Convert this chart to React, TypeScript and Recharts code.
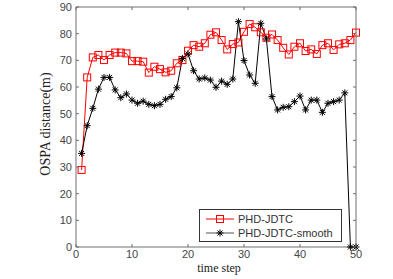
import React from "react";
import { LineChart, Line, XAxis, YAxis, Legend } from "recharts";

// time steps 1..50
const timeSteps = [
  1, 2, 3, 4, 5, 6, 7, 8, 9, 10, 11, 12, 13, 14, 15, 16, 17, 18, 19, 20, 21, 22, 23, 24, 25,
  26, 27, 28, 29, 30, 31, 32, 33, 34, 35, 36, 37, 38, 39, 40, 41, 42, 43, 44, 45, 46, 47, 48, 49, 50,
];

const phdJdtc = [
  28.9, 63.6, 71.1, 72, 70.1, 72, 72.9, 72.9, 72.6, 69.7, 69.7, 69.5, 65.4, 67.6, 66.7, 65.5, 66.1,
  68.9, 70.1, 73.6, 75.7, 75.1, 76.4, 79.6, 80.5, 77.6, 74.1, 76.1, 76.7, 80.7, 83.6, 82.4, 80.5,
  78.5, 79.7, 77.6, 74.7, 72.2, 75.1, 76.4, 73.5, 74.1, 72.4, 75.7, 76.4, 73.9, 76, 76.4, 77.6, 80.4,
];

const phdJdtcSmooth = [
  35.1, 45.5, 52, 59.2, 63.6, 63.6, 58.9, 56, 57.4, 55.1, 53.9, 54.7, 53.5, 53, 53.5, 55.4, 56.4,
  59.7, 70.7, 72.4, 66.1, 63, 63.4, 62.6, 59.9, 62.2, 61, 63, 84.5, 69.9, 64.5, 61.4, 83.9, 78,
  56.4, 51.4, 52.4, 52.6, 54.5, 56.6, 51.4, 55.1, 55.1, 50.5, 53.9, 54.5, 55.1, 57.8, 0, 0,
];

const xTicks = [0, 10, 20, 30, 40, 50];
const yTicks = [0, 10, 20, 30, 40, 50, 60, 70, 80, 90];

const data = timeSteps.map((t, i) => ({
  t,
  jdtc: phdJdtc[i],
  smooth: phdJdtcSmooth[i],
}));

const AXIS = "#6e6e6e";
const TICK_TEXT = "#454545";
const SANS = "'Liberation Sans', Arial, sans-serif";
const SERIF = "'Liberation Serif', 'DejaVu Serif', serif";
const TICK_LEN = 3;

const Square = (cx: number, cy: number, key?: string | number) => (
  <rect key={key} x={cx - 3.5} y={cy - 3.5} width={7} height={7} fill="none" stroke="#ff0000" strokeWidth={1} />
);

const Star = (cx: number, cy: number, key?: string | number) => (
  <g key={key} stroke="#000" strokeWidth={1}>
    <line x1={cx - 3.5} y1={cy} x2={cx + 3.5} y2={cy} />
    <line x1={cx} y1={cy - 3.5} x2={cx} y2={cy + 3.5} />
    <line x1={cx - 2.5} y1={cy - 2.5} x2={cx + 2.5} y2={cy + 2.5} />
    <line x1={cx - 2.5} y1={cy + 2.5} x2={cx + 2.5} y2={cy - 2.5} />
  </g>
);

// inward tick marks with labels, MATLAB style
const BottomTick = (props: any) => {
  const { x, y, payload } = props;
  return (
    <g>
      <line x1={x} y1={y} x2={x} y2={y - TICK_LEN} stroke={AXIS} />
      <text x={x} y={y + 11} textAnchor="middle" fontSize={11} fontFamily={SANS} fill={TICK_TEXT}>
        {payload.value}
      </text>
    </g>
  );
};

const LeftTick = (props: any) => {
  const { x, y, payload } = props;
  return (
    <g>
      <line x1={x} y1={y} x2={x + TICK_LEN} y2={y} stroke={AXIS} />
      <text x={x - 4} y={y + 4} textAnchor="end" fontSize={11} fontFamily={SANS} fill={TICK_TEXT}>
        {payload.value}
      </text>
    </g>
  );
};

const TopTick = (props: any) => {
  const { x, y } = props;
  return <line x1={x} y1={y} x2={x} y2={y + TICK_LEN} stroke={AXIS} />;
};

const RightTick = (props: any) => {
  const { x, y } = props;
  return <line x1={x} y1={y} x2={x - TICK_LEN} y2={y} stroke={AXIS} />;
};

const LegendBox = () => (
  <div
    style={{
      width: 141,
      height: 31,
      border: "1px solid #333",
      background: "#fff",
      fontFamily: SANS,
      fontSize: 11,
      color: "#333",
      position: "relative",
    }}
  >
    {[
      { name: "PHD-JDTC", color: "#ff0000", marker: Square, top: 2 },
      { name: "PHD-JDTC-smooth", color: "#555", marker: Star, top: 16 },
    ].map((item) => (
      <div key={item.name} style={{ position: "absolute", left: 5, top: item.top, height: 14, display: "flex", alignItems: "center" }}>
        <svg width={31} height={14} style={{ display: "block" }}>
          <line x1={1} y1={7} x2={29} y2={7} stroke={item.color} strokeWidth={1} />
          {item.marker(15, 7)}
        </svg>
        <span style={{ marginLeft: 2, lineHeight: "14px" }}>{item.name}</span>
      </div>
    ))}
  </div>
);

export default function App() {
  return (
    <div style={{ position: "absolute", left: 0, top: 0, width: 393, height: 279, background: "#fff" }}>
      <LineChart width={393} height={279} data={data} margin={{ top: 6, right: 36, bottom: 0, left: 0 }}>
        <XAxis
          dataKey="t"
          type="number"
          domain={[0, 50]}
          ticks={xTicks}
          interval={0}
          height={32}
          stroke={AXIS}
          tickLine={false}
          tickSize={0}
          tickMargin={0}
          tick={BottomTick}
          label={{ value: "time step", position: "insideBottom", offset: 7, dx: 3, fontSize: 12, fontFamily: SERIF, fill: "#222" }}
        />
        <XAxis
          xAxisId="top"
          dataKey="t"
          type="number"
          orientation="top"
          domain={[0, 50]}
          ticks={xTicks}
          interval={0}
          height={1}
          stroke={AXIS}
          tickLine={false}
          tickSize={0}
          tickMargin={0}
          tick={TopTick}
        />
        <YAxis
          type="number"
          domain={[0, 90]}
          ticks={yTicks}
          interval={0}
          width={76}
          stroke={AXIS}
          tickLine={false}
          tickSize={0}
          tickMargin={0}
          tick={LeftTick}
          label={{
            value: "OSPA distance(m)",
            angle: -90,
            position: "center",
            dx: 7,
            dy: -3,
            fontSize: 14,
            fontFamily: SERIF,
            fill: "#222",
          }}
        />
        <YAxis
          yAxisId="right"
          orientation="right"
          type="number"
          domain={[0, 90]}
          ticks={yTicks}
          interval={0}
          width={1}
          stroke={AXIS}
          tickLine={false}
          tickSize={0}
          tickMargin={0}
          tick={RightTick}
        />
        {/* invisible series so the top and right box axes get registered */}
        <Line
          xAxisId="top"
          yAxisId="right"
          dataKey="jdtc"
          stroke="none"
          dot={false}
          activeDot={false}
          legendType="none"
          isAnimationActive={false}
        />
        <Line
          dataKey="jdtc"
          name="PHD-JDTC"
          stroke="#ff0000"
          strokeWidth={1}
          isAnimationActive={false}
          dot={(p: any) => Square(p.cx, p.cy, p.key)}
        />
        <Line
          dataKey="smooth"
          name="PHD-JDTC-smooth"
          stroke="#000"
          strokeWidth={1}
          isAnimationActive={false}
          dot={(p: any) => Star(p.cx, p.cy, p.key)}
        />
        <Legend
          layout="vertical"
          align="center"
          verticalAlign="middle"
          content={LegendBox}
          wrapperStyle={{ left: 199, top: 209, width: 143, height: 33 }}
        />
      </LineChart>
    </div>
  );
}
